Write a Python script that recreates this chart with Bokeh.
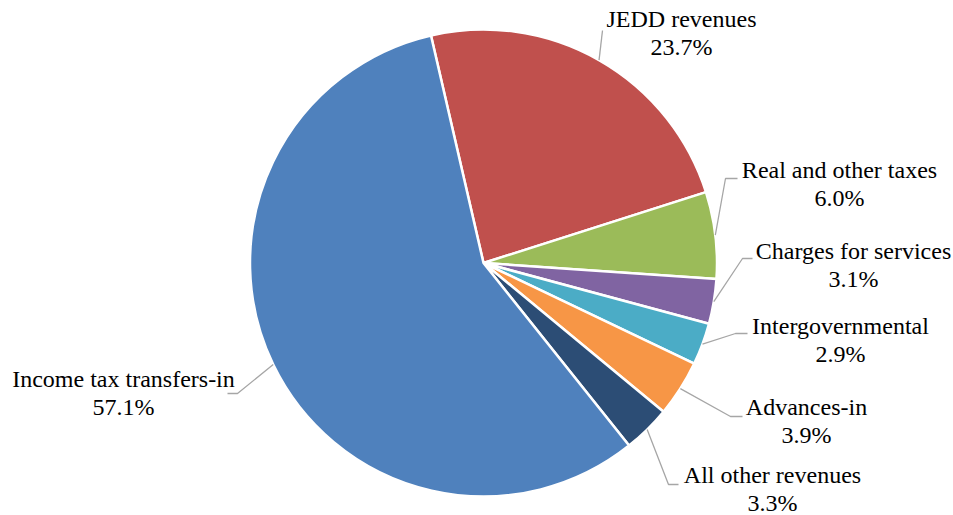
import math
from bokeh.plotting import figure
from bokeh.models import Range1d
from bokeh.embed import file_html
from bokeh.resources import INLINE
from bokeh.core.properties import value

# ---- data ----
categories = ["JEDD revenues", "Real and other taxes", "Charges for services",
              "Intergovernmental", "Advances-in", "All other revenues",
              "Income tax transfers-in"]
shares = [23.7, 6.0, 3.1, 2.9, 3.9, 3.3, 57.1]
colors = ["#C0504D", "#9BBB59", "#8064A2", "#4BACC6", "#F79646", "#2C4D75", "#4F81BD"]

# ---- layout (pixels, y downward) ----
W, H = 953, 515
CX, CY, R = 483.0, 262.5, 233.5
FIRST_DEG = -13.0  # rotation of first slice, clockwise from 12 o'clock
FONT_PX = 24
LINE_GAP = 27.5
MID_SHIFT = 8.1    # baseline -> middle of text box
# label anchors: (center x, baseline of first line)
label_pos = [(681, 27), (839, 178), (853, 259), (840, 334), (806, 415), (772, 483), (123, 387)]
leader_elbow = [(602, 30), (725, 178), (742, 258), (735, 333), (730, 416), (668, 484), (237, 393)]
leader_end = [(602, 30), (737, 178), (752, 258), (747, 333), (742, 416), (678, 484), (227, 393)]

def fy(py):
    return H - py

p = figure(width=W, height=H, x_range=Range1d(0, W), y_range=Range1d(0, H),
           x_axis_type=None, y_axis_type=None, toolbar_location=None,
           output_backend="svg", min_border=0)
p.outline_line_color = None

total = sum(shares)
starts, ends, mids = [], [], []
acc = 0.0
for s in shares:
    a0 = FIRST_DEG + acc / total * 360.0
    acc += s
    a1 = FIRST_DEG + acc / total * 360.0
    starts.append(math.radians(90.0 - a1))
    ends.append(math.radians(90.0 - a0))
    mids.append(math.radians((a0 + a1) / 2.0))

p.wedge(x=[CX] * len(shares), y=[fy(CY)] * len(shares), radius=R,
        start_angle=starts, end_angle=ends, direction="anticlock",
        fill_color=colors, line_color="white", line_width=2.5)

# leader lines
xs, ys = [], []
for m, (ex, ey), (tx, ty) in zip(mids, leader_elbow, leader_end):
    sx = CX + R * math.sin(m)
    sy = CY - R * math.cos(m)
    xs.append([sx, ex, tx])
    ys.append([fy(sy), fy(ey), fy(ty)])
p.multi_line(xs=xs, ys=ys, line_color="#A6A6A6", line_width=1.3)

for i, (lx, ly) in enumerate(label_pos):
    p.text(x=[lx], y=[fy(ly - MID_SHIFT)], text=[categories[i]], text_align="center",
           text_baseline="middle", text_font=value("Liberation Serif"),
           text_font_size=value(f"{FONT_PX}px"), text_color="#000000")
    p.text(x=[lx], y=[fy(ly + LINE_GAP - MID_SHIFT)], text=[f"{shares[i]:.1f}%"], text_align="center",
           text_baseline="middle", text_font=value("Liberation Serif"),
           text_font_size=value(f"{FONT_PX}px"), text_color="#000000")

open("out.html", "w").write(file_html(p, INLINE))
